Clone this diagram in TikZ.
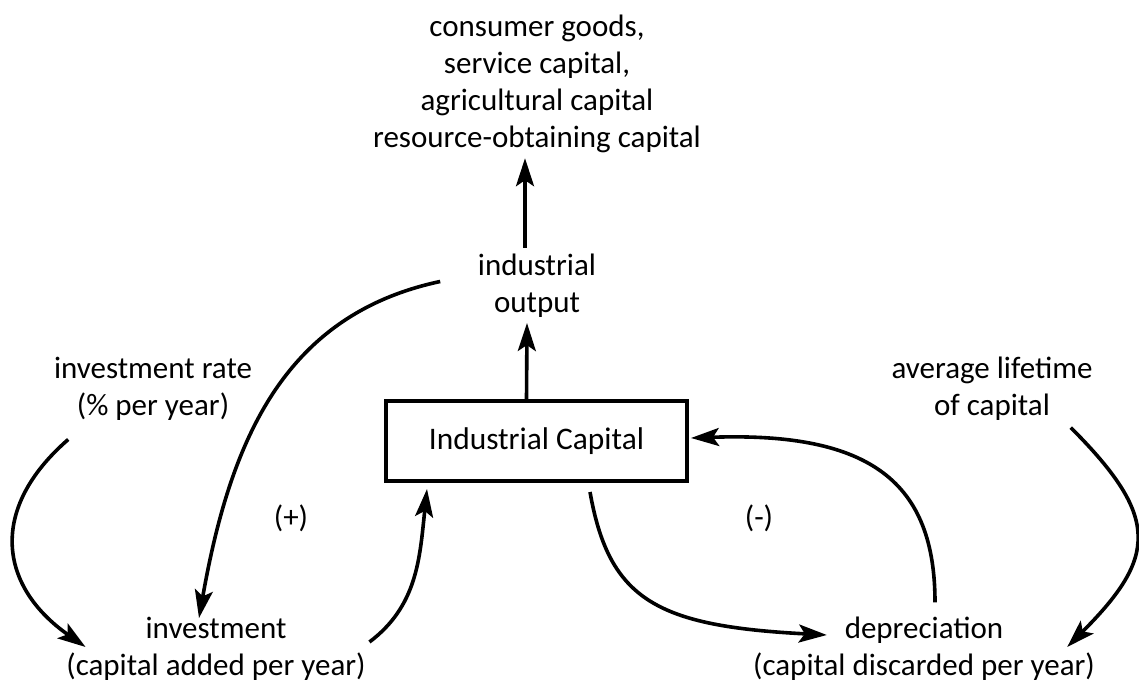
\documentclass[tikz,border=0pt]{standalone}
\usepackage{fontspec}
\setmainfont{Carlito}
\usepackage{tikz}
\usetikzlibrary{arrows.meta}

\begin{document}
\begin{tikzpicture}[
                          x=0.5pt, y=0.5pt,
                          >={Stealth[length=14pt, width=9pt, inset=3pt]},
                          every path/.style={line width=1.8pt},
                          stocknode/.style={rectangle, draw, line width=2pt, minimum width=150.5pt, minimum height=40pt, font=\fontsize{15.7}{18.5}\selectfont},
                          labelnode/.style={align=center, inner sep=2pt, font=\fontsize{15.5}{18.5}\selectfont},
                          signnode/.style={inner sep=2pt, font=\fontsize{15.5}{18.5}\selectfont},
                      ]
                      \useasboundingbox (0,0) rectangle (1139,685);

                      %Nodes
                      \node[stocknode]   (capital)   at (536.5,244)   {Industrial Capital};
                      \node[labelnode]   (output)    at (537,399.5)   {industrial\\output};
                      \node[labelnode]   (goods)     at (537,601.5)   {consumer goods,\\service capital,\\agricultural capital\\resource-obtaining capital};
                      \node[labelnode]   (rate)      at (153,296)     {investment rate\\(\% per year)};
                      \node[labelnode]   (lifetime)  at (992,296.5)   {average lifetime\\of capital};
                      \node[labelnode]   (invest)    at (216,36.5)    {investment\\(capital added per year)};
                      \node[labelnode]   (deprec)    at (924,36)      {depreciation\\(capital discarded per year)};
                      \node[signnode]    (plus)      at (291,167)     {(+)};
                      \node[signnode]    (minus)     at (759,167)     {(-)};

                      %Lines
                      \draw[->] ([xshift=-6pt]output.north) -- ([xshift=-6pt]goods.south);
                      \draw[->] ([xshift=-5pt]capital.north) -- ([xshift=-5pt]output.south);
                      \draw[->] ([shift={(-32,4)}]output.west) to[out=192, in=80, out distance=80pt, in distance=90pt] ([shift={(-17,-7)}]invest.north);
                      \draw[->] ([shift={(20,-13)}]rate.south west) to[out=221, in=145, out distance=53pt, in distance=53pt] ([shift={(25,1.5)}]invest.west);
                      \draw[->] ([shift={(-2,6.5)}]invest.east) to[out=37, in=264, out distance=30pt, in distance=35pt] ([shift={(43,-6)}]capital.south west);
                      \draw[->] ([shift={(53.5,-9)}]capital.south) to[out=-80, in=177, out distance=55pt, in distance=85pt] ([shift={(79.5,14)}]deprec.west);
                      \draw[->] ([shift={(11,9)}]deprec.north) to[out=90, in=2, out distance=60pt, in distance=90pt] ([shift={(2,3)}]capital.east);
                      \draw[->] ([shift={(-27.5,-1.5)}]lifetime.south east) to[out=-45, in=45, out distance=63.5pt, in distance=63.5pt] ([shift={(-33.5,2)}]deprec.east);
                  \end{tikzpicture}
\end{document}
